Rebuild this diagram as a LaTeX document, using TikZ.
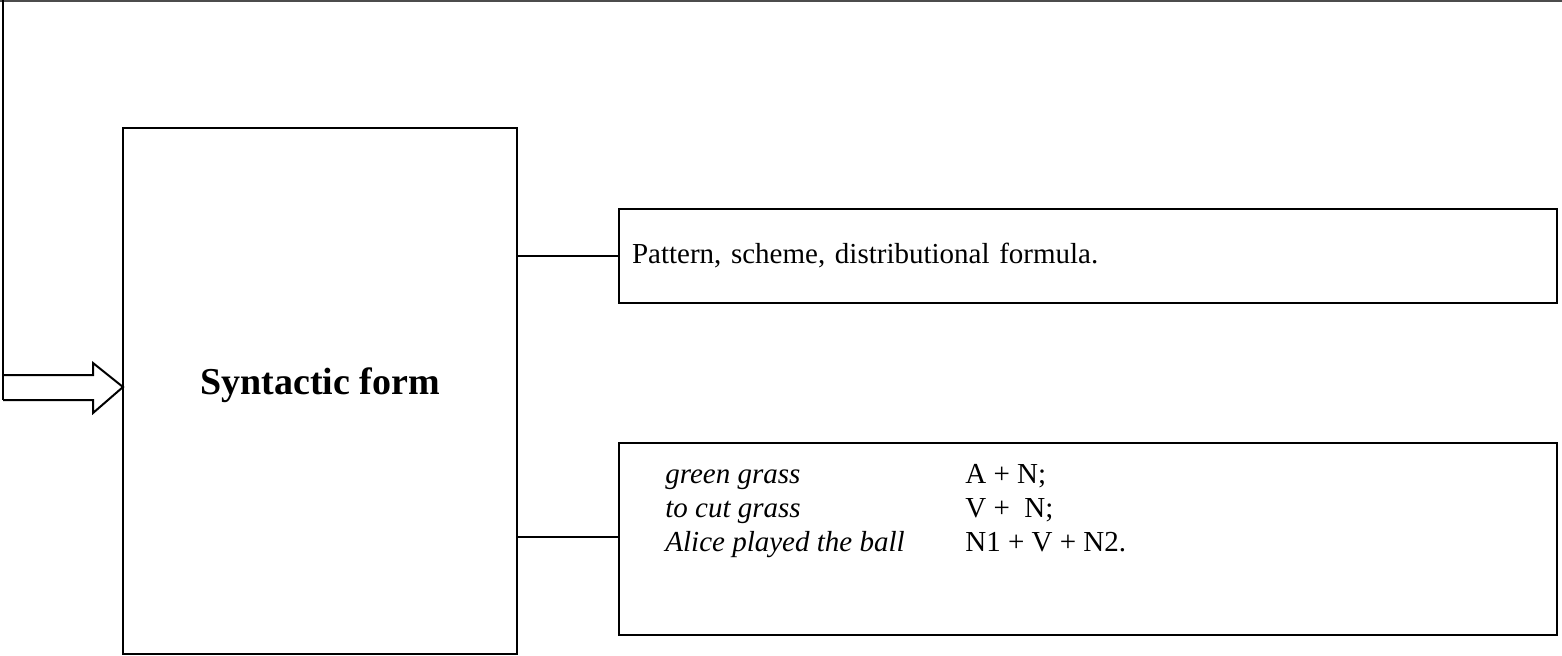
\documentclass[tikz,border=0pt]{standalone}
\usepackage{fontspec}
\setmainfont{Liberation Serif}
\tikzset{
  boxstyle/.style={draw, line width=1pt, inner sep=0pt},
  linkline/.style={line width=1pt},
  bodyfont/.style={font=\fontsize{14.5}{17}\selectfont},
}
\begin{document}
\begin{tikzpicture}[x=0.5pt,y=-0.5pt]
  \useasboundingbox (0,0) rectangle (1562,655);
  % top rule and the feed line on the left
  \draw[line width=0.8pt, black!70] (0,1)--(1562,1);
  \coordinate (feedtop) at (3,0);
  \coordinate (feedbot) at (3,400);
  \draw[line width=1.2pt] (feedtop)--(feedbot);
  % main box
  \node[boxstyle, minimum width=197pt, minimum height=263pt] (form) at (320,391) {};
  \node[font=\fontsize{19}{22}\selectfont\bfseries] (formlabel) at (320,385) {Syntactic form};
  % block arrow into the main box
  \coordinate (tip) at (123,387);
  \draw[line width=1pt, line join=miter] (3,375)--(93,375)--(93,363)--(tip)--(93,413)--(93,400)--(feedbot);
  % right boxes
  \node[boxstyle, bodyfont, minimum width=469pt, minimum height=47pt,
        text width=456pt, align=left, inner xsep=6.5pt] (pattern) at (1088,256)
        {Pattern, scheme, distributional formula.};
  \node[boxstyle, minimum width=469pt, minimum height=96pt] (examples) at (1088,539) {};
  \node[bodyfont, anchor=base west, inner sep=0pt] (exlist) at (665,483)
        {\begin{tabular}[t]{@{}p{150pt}@{}l@{}}
           \itshape green grass & A + N;\\
           \itshape to cut grass & V +\ \ N;\\
           \itshape Alice played the ball & N1 + V + N2.
         \end{tabular}};
  % connectors
  \draw[linkline] (form.east |- pattern.west)--(pattern.west);
  \draw[linkline] (form.east |- 0,537)--(examples.west |- 0,537);
\end{tikzpicture}
\end{document}
